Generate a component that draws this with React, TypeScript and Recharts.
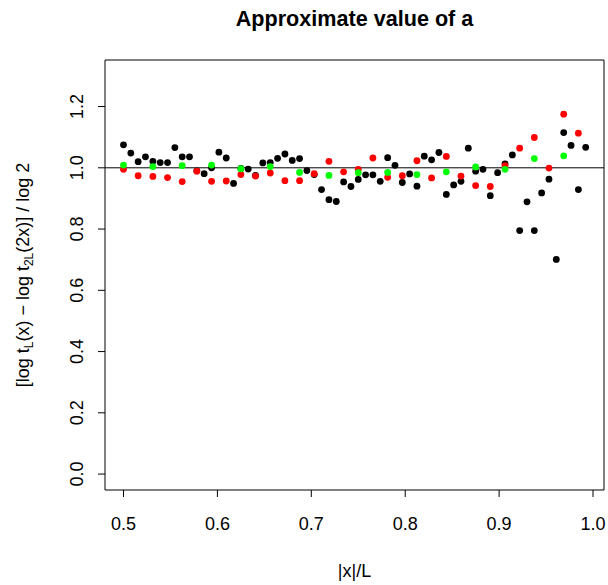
import { ScatterChart, Scatter, XAxis, YAxis, ReferenceLine, ReferenceArea } from 'recharts'

// |x|/L positions for each resolution
const blackX = [
  0.5, 0.5078, 0.5156, 0.5234, 0.5313, 0.5391, 0.5469, 0.5547, 0.5625, 0.5703, 0.5781, 0.5859, 0.5938,
  0.6016, 0.6094, 0.6172, 0.625, 0.6328, 0.6406, 0.6484, 0.6563, 0.6641, 0.6719, 0.6797, 0.6875, 0.6953,
  0.7031, 0.7109, 0.7188, 0.7266, 0.7344, 0.7422, 0.75, 0.7578, 0.7656, 0.7734, 0.7813, 0.7891, 0.7969,
  0.8047, 0.8125, 0.8203, 0.8281, 0.8359, 0.8438, 0.8516, 0.8594, 0.8672, 0.875, 0.8828, 0.8906, 0.8984,
  0.9063, 0.9141, 0.9219, 0.9297, 0.9375, 0.9453, 0.9531, 0.9609, 0.9688, 0.9766, 0.9844, 0.9922,
]
const blackY = [
  1.075, 1.048, 1.02, 1.036, 1.021, 1.017, 1.017, 1.066, 1.036, 1.036, 0.99, 0.981, 1.0,
  1.051, 1.032, 0.949, 0.998, 0.996, 0.975, 1.016, 1.017, 1.031, 1.045, 1.024, 1.03, 0.991,
  0.978, 0.929, 0.896, 0.89, 0.954, 0.939, 0.962, 0.977, 0.977, 0.956, 1.033, 1.008, 0.952,
  0.98, 0.94, 1.038, 1.026, 1.05, 0.913, 0.944, 0.956, 1.064, 0.989, 0.995, 0.909, 0.984,
  1.013, 1.042, 0.795, 0.889, 0.795, 0.918, 0.963, 0.701, 1.115, 1.073, 0.929, 1.067,
]

const redX = [
  0.5, 0.5156, 0.5313, 0.5469, 0.5625, 0.5781, 0.5938, 0.6094, 0.625, 0.6406, 0.6563, 0.6719, 0.6875,
  0.7031, 0.7188, 0.7344, 0.75, 0.7656, 0.7813, 0.7969, 0.8125, 0.8281, 0.8438, 0.8594, 0.875, 0.8906,
  0.9063, 0.9219, 0.9375, 0.9531, 0.9688, 0.9844,
]
const redY = [
  0.995, 0.974, 0.972, 0.968, 0.955, 0.989, 0.956, 0.957, 0.978, 0.973, 0.983, 0.958, 0.958,
  0.981, 1.021, 0.987, 0.995, 1.032, 0.969, 0.974, 1.023, 0.967, 1.037, 0.973, 0.942, 0.939,
  1.007, 1.064, 1.099, 0.999, 1.175, 1.113,
]

const greenX = [
  0.5, 0.5313, 0.5625, 0.5938, 0.625, 0.6563, 0.6875, 0.7188, 0.75, 0.7813, 0.8125, 0.8438,
  0.875, 0.9063, 0.9375, 0.9688,
]
const greenY = [
  1.009, 1.004, 1.007, 1.009, 0.997, 1.004, 0.985, 0.975, 0.984, 0.985, 0.978, 0.987,
  1.003, 0.995, 1.03, 1.039,
]

const xTicks = [0.5, 0.6, 0.7, 0.8, 0.9, 1.0]
const yTicks = [0, 0.2, 0.4, 0.6, 0.8, 1.0, 1.2]

const xDomain = [0.4803, 1.0117]
const yDomain = [-0.052, 1.352]

const toPoints = (xs: number[], ys: number[]) => xs.map((x, i) => ({ x, y: ys[i] }))
const blackData = toPoints(blackX, blackY)
const redData = toPoints(redX, redY)
const greenData = toPoints(greenX, greenY)

const FONT = 'Liberation Sans, Arial, Helvetica, sans-serif'

const dot = (color: string) => (props: any) => (
  <circle cx={props.cx} cy={props.cy} r={3.4} fill={color} />
)

const XTick = (props: any) => (
  <text x={props.x} y={530} textAnchor="middle" fontSize={18} fontFamily={FONT} fill="#000">
    {props.payload.value.toFixed(1)}
  </text>
)

const YTick = (props: any) => (
  <text
    x={83.5}
    y={props.y}
    transform={`rotate(-90, 83.5, ${props.y})`}
    textAnchor="middle"
    fontSize={18}
    fontFamily={FONT}
    fill="#000"
  >
    {props.payload.value.toFixed(1)}
  </text>
)

export default function App() {
  return (
    <div style={{ position: 'absolute', left: 0, top: 0, width: 608, height: 585, background: '#fff' }}>
      <ScatterChart width={608} height={585} margin={{ top: 60, right: 4, bottom: 65, left: 75 }}>
        <XAxis
          type="number"
          dataKey="x"
          domain={xDomain}
          allowDataOverflow
          ticks={xTicks}
          height={30}
          tickSize={7}
          axisLine={false}
          tickLine={{ stroke: '#000' }}
          tick={<XTick />}
        />
        <YAxis
          type="number"
          dataKey="y"
          domain={yDomain}
          allowDataOverflow
          ticks={yTicks}
          width={30}
          tickSize={7}
          axisLine={false}
          tickLine={{ stroke: '#000' }}
          tick={<YTick />}
        />
        <ReferenceArea
          x1={xDomain[0]}
          x2={xDomain[1]}
          y1={yDomain[0]}
          y2={yDomain[1]}
          fill="none"
          fillOpacity={0}
          stroke="#000"
          strokeWidth={1}
        />
        <ReferenceLine y={1} stroke="#000" strokeWidth={1} />
        <Scatter data={blackData} isAnimationActive={false} shape={dot('#000000')} />
        <Scatter data={redData} isAnimationActive={false} shape={dot('#ff0000')} />
        <Scatter data={greenData} isAnimationActive={false} shape={dot('#00ff00')} />
      </ScatterChart>
      <svg
        width={608}
        height={585}
        style={{ position: 'absolute', left: 0, top: 0, pointerEvents: 'none' }}
        fontFamily={FONT}
      >
        <text x={354.5} y={26} textAnchor="middle" fontSize={21.6} fontWeight="bold">
          Approximate value of a
        </text>
        <text x={354.5} y={577} textAnchor="middle" fontSize={18}>
          |x|/L
        </text>
        <text x={29} y={275} transform="rotate(-90, 29, 275)" textAnchor="middle" fontSize={18}>
          [log t
          <tspan fontSize={12} dy={4}>L</tspan>
          <tspan dy={-4}>(x) − log t</tspan>
          <tspan fontSize={12} dy={4}>2L</tspan>
          <tspan dy={-4}>(2x)] / log 2</tspan>
        </text>
      </svg>
    </div>
  )
}
